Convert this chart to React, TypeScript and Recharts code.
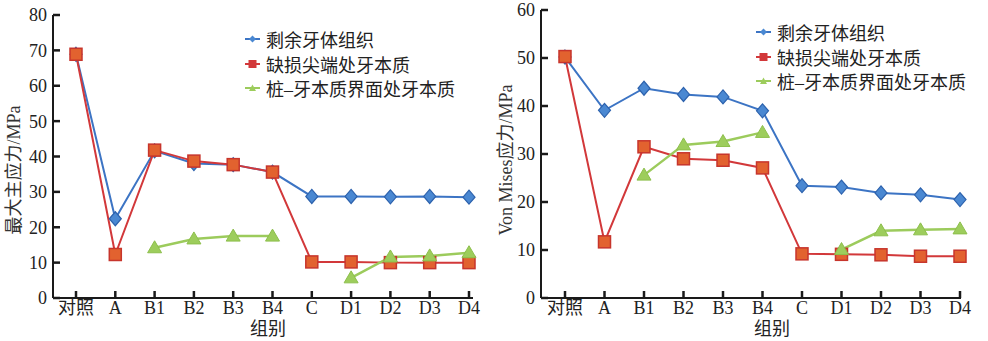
import React from "react"
import { LineChart, Line, XAxis, YAxis, Legend } from "recharts"

const groups = ["对照", "A", "B1", "B2", "B3", "B4", "C", "D1", "D2", "D3", "D4"]
const seriesNames = ["剩余牙体组织", "缺损尖端处牙本质", "桩–牙本质界面处牙本质"]

// 最大主应力 (MPa)
const principalRemaining = [68.9, 22.4, 41.6, 38.0, 37.7, 35.6, 28.7, 28.7, 28.6, 28.7, 28.5]
const principalDefectTip = [68.9, 12.3, 41.8, 38.7, 37.7, 35.6, 10.2, 10.2, 10.0, 10.0, 10.0]
const principalInterface = [null, null, 14.2, 16.7, 17.5, 17.5, null, 5.7, 11.6, 11.9, 12.8]
const principalTicks = [0, 10, 20, 30, 40, 50, 60, 70, 80]

// Von Mises 应力 (MPa)
const misesRemaining = [50.2, 39.1, 43.7, 42.4, 41.9, 39.0, 23.4, 23.1, 21.9, 21.5, 20.5]
const misesDefectTip = [50.3, 11.7, 31.5, 29.0, 28.7, 27.1, 9.2, 9.1, 9.0, 8.7, 8.7]
const misesInterface = [null, null, 25.6, 31.9, 32.6, 34.5, null, 10.1, 14.0, 14.2, 14.4]
const misesTicks = [0, 10, 20, 30, 40, 50, 60]

const FONT = "'Liberation Serif', 'Noto Sans CJK SC', serif"
const AXIS = "#1a1a1a"
const TEXT = "#222"
const FS = 18
const COLORS = ["#3c74c4", "#d2383a", "#9ccb5c"]

const buildRows = (a: (number | null)[], b: (number | null)[], c: (number | null)[]) =>
    groups.map((g, i) => ({ group: g, s0: a[i], s1: b[i], s2: c[i] }))

function Diamond(props: any) {
    const { cx, cy } = props
    if (cx == null || cy == null || props.value == null) return <g />
    return (
        <path
            d={`M${cx},${cy - 7}L${cx + 6},${cy}L${cx},${cy + 7}L${cx - 6},${cy}Z`}
            fill="#4a88d2"
            stroke="#2d62ad"
            strokeWidth={1.2}
        />
    )
}

function Square(props: any) {
    const { cx, cy } = props
    if (cx == null || cy == null || props.value == null) return <g />
    return <rect x={cx - 6} y={cy - 6} width={12} height={12} fill="#e2622f" stroke="#c7352c" strokeWidth={1.5} />
}

function Triangle(props: any) {
    const { cx, cy } = props
    if (cx == null || cy == null || props.value == null) return <g />
    return <path d={`M${cx},${cy - 7}L${cx + 7},${cy + 5}L${cx - 7},${cy + 5}Z`} fill="#9dcd5c" stroke="#8dbf4c" strokeWidth={1} />
}

function XTick(props: any) {
    const { x, y, payload } = props
    return (
        <text x={x} y={y} dy="0.71em" textAnchor="middle" fontFamily={FONT} fontSize={FS} fill={TEXT}>
            {payload.value}
        </text>
    )
}

function YTick(props: any) {
    const { x, y, payload } = props
    return (
        <text x={x} y={y} dy="0.355em" textAnchor="end" fontFamily={FONT} fontSize={FS} fill={TEXT}>
            {payload.value}
        </text>
    )
}

function LegendBox() {
    const icons = [
        <path d="M7.5,1.5L11,5L7.5,8.5L4,5Z" fill="#4a88d2" />,
        <rect x={3.5} y={1} width={8} height={8} fill="#d2383a" />,
        <path d="M7.5,1.5L11,8L4,8Z" fill="#9dcd5c" />,
    ]
    return (
        <div style={{ fontFamily: FONT, fontSize: FS, color: TEXT, whiteSpace: "nowrap" }}>
            {seriesNames.map((name, i) => (
                <div key={name} style={{ display: "flex", alignItems: "center", height: 24.5 }}>
                    <svg width={15} height={10} style={{ marginRight: 6 }}>
                        <line x1={0} y1={5} x2={15} y2={5} stroke={COLORS[i]} strokeWidth={2} />
                        {icons[i]}
                    </svg>
                    <span>{name}</span>
                </div>
            ))}
        </div>
    )
}

function Panel(props: {
    left: number
    rows: any[]
    ticks: number[]
    yLabel: string
    yLabelX: number
    yLabelY: number
    axisWidth: number
    top: number
    right: number
    padLeft: number
    padRight: number
    legendLeft: number
    legendTop: number
    xLabelX: number
}) {
    const max = props.ticks[props.ticks.length - 1]
    return (
        <div style={{ position: "absolute", left: props.left, top: 0 }}>
            <LineChart
                width={494}
                height={341}
                data={props.rows}
                margin={{ top: props.top, right: props.right, left: 0, bottom: 0 }}
            >
                <XAxis
                    dataKey="group"
                    height={43}
                    padding={{ left: props.padLeft, right: props.padRight }}
                    axisLine={{ stroke: AXIS, strokeWidth: 2 }}
                    tickLine={{ stroke: AXIS, strokeWidth: 2.5 }}
                    tickSize={-7}
                    tickMargin={10}
                    interval={0}
                    tick={XTick}
                    label={() => (
                        <text x={props.xLabelX} y={335} textAnchor="middle" fontFamily={FONT} fontSize={FS} fill={TEXT}>
                            组别
                        </text>
                    )}
                />
                <YAxis
                    width={props.axisWidth}
                    domain={[0, max]}
                    ticks={props.ticks}
                    interval={0}
                    axisLine={{ stroke: AXIS, strokeWidth: 2 }}
                    tickLine={{ stroke: AXIS, strokeWidth: 2.5 }}
                    tickSize={-7}
                    tickMargin={13}
                    tick={YTick}
                    label={() => (
                        <text
                            x={props.yLabelX}
                            y={props.yLabelY}
                            transform={`rotate(-90 ${props.yLabelX} ${props.yLabelY})`}
                            textAnchor="middle"
                            dominantBaseline="central"
                            fontFamily={FONT}
                            fontSize={FS}
                            fill="#333"
                        >
                            {props.yLabel}
                        </text>
                    )}
                />
                <Legend
                    layout="horizontal"
                    align="center"
                    verticalAlign="middle"
                    content={() => <LegendBox />}
                    wrapperStyle={{ position: "absolute", left: props.legendLeft, top: props.legendTop, width: "auto" }}
                />
                <Line dataKey="s0" name={seriesNames[0]} stroke={COLORS[0]} strokeWidth={2} dot={Diamond} isAnimationActive={false} />
                <Line dataKey="s1" name={seriesNames[1]} stroke={COLORS[1]} strokeWidth={2} dot={Square} isAnimationActive={false} />
                <Line dataKey="s2" name={seriesNames[2]} stroke={COLORS[2]} strokeWidth={2.5} dot={Triangle} isAnimationActive={false} />
            </LineChart>
        </div>
    )
}

export default function App() {
    return (
        <div style={{ position: "absolute", left: 0, top: 0, width: 988, height: 341, background: "#fff" }}>
            <Panel
                left={0}
                rows={buildRows(principalRemaining, principalDefectTip, principalInterface)}
                ticks={principalTicks}
                yLabel="最大主应力/MPa"
                yLabelX={14}
                yLabelY={170}
                axisWidth={53}
                top={15}
                right={21}
                padLeft={23}
                padRight={4}
                legendLeft={245}
                legendTop={27}
                xLabelX={268}
            />
            <Panel
                left={494}
                rows={buildRows(misesRemaining, misesDefectTip, misesInterface)}
                ticks={misesTicks}
                yLabel="Von Mises应力/MPa"
                yLabelX={12}
                yLabelY={160}
                axisWidth={47}
                top={10}
                right={27}
                padLeft={24}
                padRight={1}
                legendLeft={262}
                legendTop={20}
                xLabelX={278}
            />
        </div>
    )
}
